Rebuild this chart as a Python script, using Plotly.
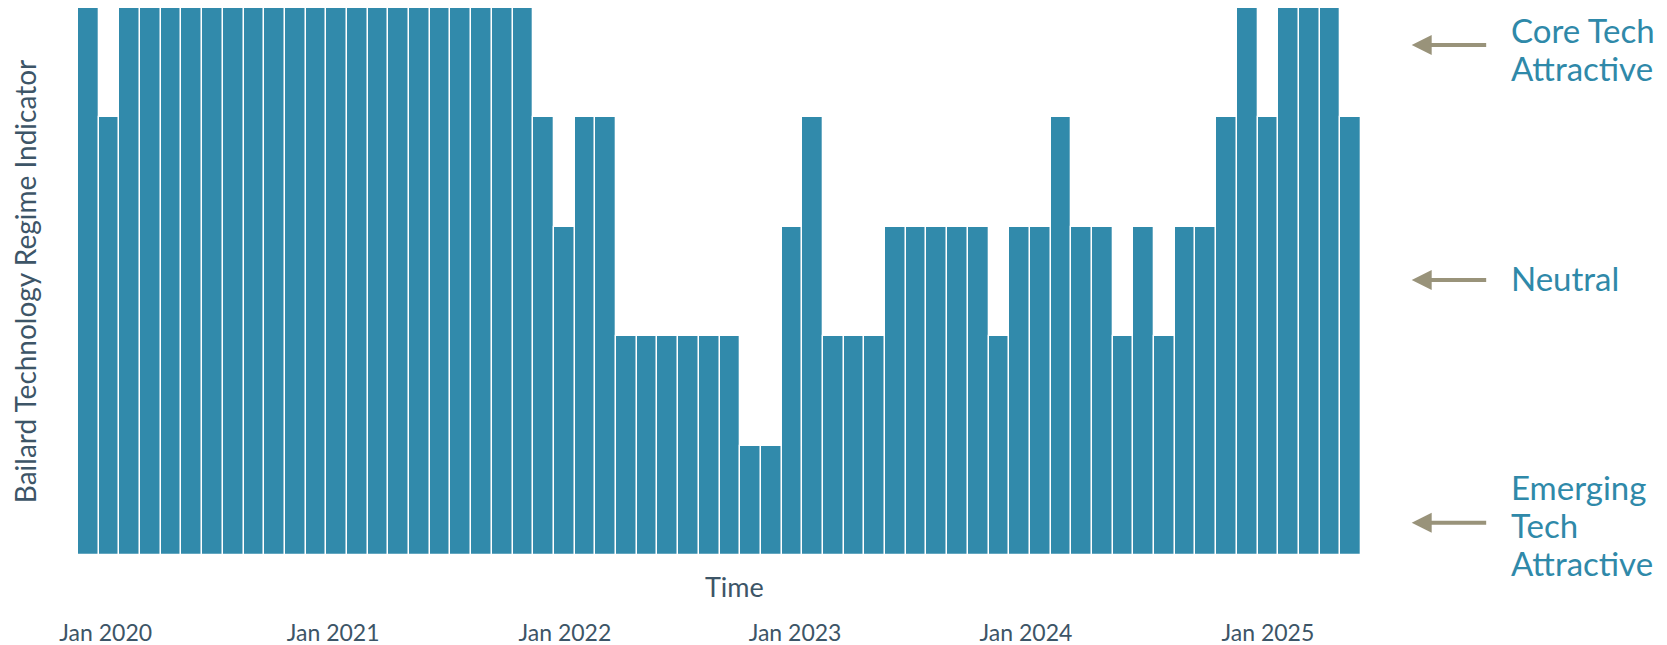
import plotly.graph_objects as go

# ---- data ----
months = [f"{y}-{m:02d}" for y in range(2020, 2026) for m in range(1, 13)][:62]
regime_values = [
    5, 4,
    5, 5, 5, 5, 5, 5, 5, 5, 5, 5, 5, 5, 5, 5, 5, 5, 5, 5, 5, 5,
    4, 3, 4, 4,
    2, 2, 2, 2, 2, 2,
    1, 1,
    3, 4,
    2, 2, 2,
    3, 3, 3, 3, 3,
    2, 3, 3, 4, 3, 3, 2, 3, 2, 3, 3, 4,
    5, 4, 5, 5, 5, 4,
]
tick_labels = ["Jan 2020", "Jan 2021", "Jan 2022", "Jan 2023", "Jan 2024", "Jan 2025"]
tick_positions = [0.84, 11.83, 23.03, 34.15, 45.31, 57.0]
regime_labels = [["Core Tech", "Attractive"], ["Neutral"], ["Emerging", "Tech", "Attractive"]]

bar_idx = list(range(len(regime_values)))

BAR = "#318aab"
TXT = "#3d5567"
LBL = "#2f89a9"
ARR = "#99937a"
FONT = "Lato"

fig = go.Figure(
    go.Bar(
        x=bar_idx,
        y=regime_values,
        customdata=months,
        hovertemplate="%{customdata}: %{y}<extra></extra>",
        marker=dict(color=BAR, line=dict(color="white", width=1.3)),
    )
)

# arrows and regime labels on the right (paper coordinates)
arrow_y = [0.9324, 0.5028, 0.059]
label_center_y = [0.925, 0.507, 0.0548]
line_step = 0.0694  # vertical distance between label lines, in paper units
annotations = []
for ay_, cy, lines in zip(arrow_y, label_center_y, regime_labels):
    annotations.append(dict(
        x=1.0395, xref="paper", y=ay_, yref="paper", text="",
        showarrow=True, ax=76, ay=0, arrowhead=2, arrowsize=1,
        arrowwidth=4, arrowcolor=ARR,
    ))
    n = len(lines)
    for i, line in enumerate(lines):
        annotations.append(dict(
            x=1.1153, xref="paper", y=cy - (i - (n - 1) / 2) * line_step, yref="paper",
            text=line, showarrow=False, xanchor="left", yanchor="middle", align="left",
            font=dict(family=FONT, size=33, color=LBL),
        ))
annotations.append(dict(
    x=0.512, xref="paper", y=-0.0567, yref="paper", text="Time",
    showarrow=False, xanchor="center", yanchor="middle",
    font=dict(family=FONT, size=27, color=TXT),
))

fig.update_layout(
    width=1667, height=645,
    margin=dict(l=78, r=306, t=8, b=90),
    paper_bgcolor="white", plot_bgcolor="white",
    bargap=0,
    showlegend=False,
    font=dict(family=FONT, color=TXT),
    annotations=annotations,
    xaxis=dict(
        range=[-0.5, len(regime_values) - 0.5],
        tickmode="array", tickvals=tick_positions, ticktext=tick_labels,
        tickfont=dict(family=FONT, size=23, color=TXT),
        ticks="", showgrid=False, zeroline=False, showline=False,
        ticklabelstandoff=62, automargin=False,
    ),
    yaxis=dict(
        range=[0, 5], automargin=False,
        showticklabels=False, ticks="", showgrid=False, zeroline=False, showline=False,
        title=dict(text="Bailard Technology Regime Indicator",
                   font=dict(family=FONT, size=28, color=TXT), standoff=32),
    ),
)

fig.write_html("out.html")
